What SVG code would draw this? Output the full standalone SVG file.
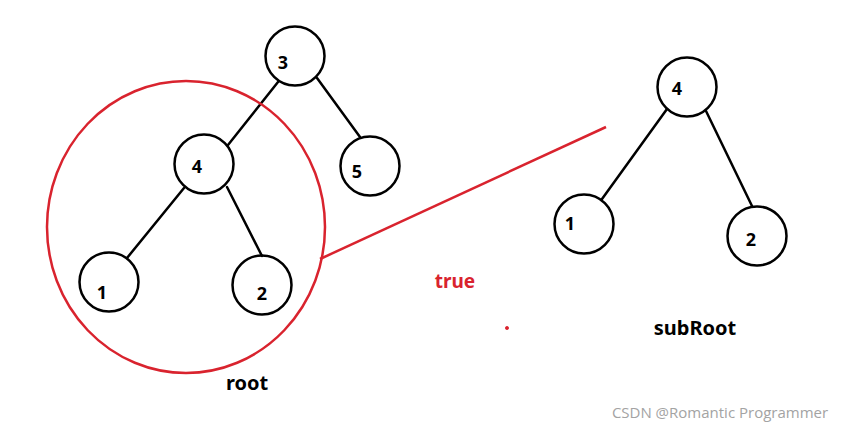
<svg xmlns="http://www.w3.org/2000/svg" width="845" height="430" viewBox="0 0 845 430">
<style>
.n{fill:none;stroke:#000;stroke-width:2.5}
.e{stroke:#000;stroke-width:2.5;stroke-linecap:round}
.t{font-family:"Noto Sans","Liberation Sans",sans-serif;font-weight:bold;font-size:18px;fill:#000}
.lb{font-family:"Noto Sans","Liberation Sans",sans-serif;font-weight:bold;font-size:20px;fill:#000}
.red{fill:none;stroke:#d9232e;stroke-width:2.5}
</style>
<rect width="845" height="430" fill="#fff"/>
<g id="connectors">
<line class="e" x1="278" y1="82" x2="228" y2="145"/>
<line class="e" x1="317" y1="78" x2="360" y2="137"/>
<line class="e" x1="184" y1="188" x2="127" y2="258"/>
<line class="e" x1="227" y1="187" x2="262" y2="256"/>
<line class="e" x1="667" y1="109" x2="602" y2="199"/>
<line class="e" x1="706" y1="111" x2="752" y2="206"/>
</g>
<g id="L3"><circle class="n" cx="295" cy="56" r="29.5"/><text class="t" x="283" y="69" text-anchor="middle">3</text></g>
<g id="L4"><circle class="n" cx="204" cy="164" r="29.5"/><text class="t" x="197" y="173" text-anchor="middle">4</text></g>
<g id="L5"><circle class="n" cx="370" cy="166" r="29.5"/><text class="t" x="357" y="178" text-anchor="middle">5</text></g>
<g id="L1"><circle class="n" cx="109" cy="282" r="29.5"/><text class="t" x="102" y="299" text-anchor="middle">1</text></g>
<g id="L2"><circle class="n" cx="262" cy="285" r="29.5"/><text class="t" x="262" y="300" text-anchor="middle">2</text></g>
<g id="R4"><circle class="n" cx="687" cy="87" r="29.5"/><text class="t" x="677" y="95" text-anchor="middle">4</text></g>
<g id="R1"><circle class="n" cx="584" cy="224" r="29.5"/><text class="t" x="570" y="230" text-anchor="middle">1</text></g>
<g id="R2"><circle class="n" cx="757" cy="236" r="29.5"/><text class="t" x="751" y="246" text-anchor="middle">2</text></g>
<g id="highlight">
<ellipse class="red" cx="186" cy="227" rx="139" ry="146"/>
<line class="red" x1="320" y1="259" x2="606" y2="127"/>
<circle cx="507" cy="328" r="1.6" fill="#d9232e" stroke="#d9232e" stroke-width="0.8"/>
</g>
<text class="lb" x="247" y="390" text-anchor="middle">root</text>
<text class="lb" x="695" y="335" text-anchor="middle">subRoot</text>
<text class="lb" x="455" y="288" text-anchor="middle" style="fill:#d9232e;font-size:19px">true</text>
<text x="720" y="418" text-anchor="middle" font-family="'Open Sans','Noto Sans',sans-serif" font-size="15" fill="#a3a3a3">CSDN @Romantic Programmer</text>
</svg>
